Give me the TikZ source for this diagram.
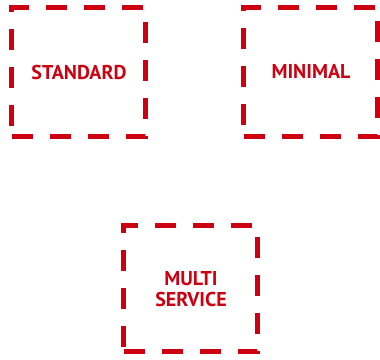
\documentclass[tikz,border=0pt]{standalone}
\usepackage{fontspec}
\setsansfont{PT Sans}
\usepackage{xcolor}
\usetikzlibrary{positioning}
\definecolor{boxred}{HTML}{CC0011}

\tikzset{
  plan/.style={draw=boxred, line width=3.75pt, dash pattern=on 15.75pt off 12.75pt,
    minimum width=100.5pt, minimum height=96.75pt, inner sep=0pt,
    text=boxred, font=\sffamily\bfseries\fontsize{15}{16.1}\selectfont, align=center}
}

\begin{document}
\begin{tikzpicture}[x=0.75pt,y=-0.75pt]

\useasboundingbox (0,0) rectangle (380,360);

\node[plan] (standard) at (79,72.5) {STANDARD};

\node[plan] (minimal) at (311,72) {MINIMAL};

\node[plan, minimum height=94.5pt] (multi) at (191,289) {MULTI\\SERVICE};

\end{tikzpicture}
\end{document}
